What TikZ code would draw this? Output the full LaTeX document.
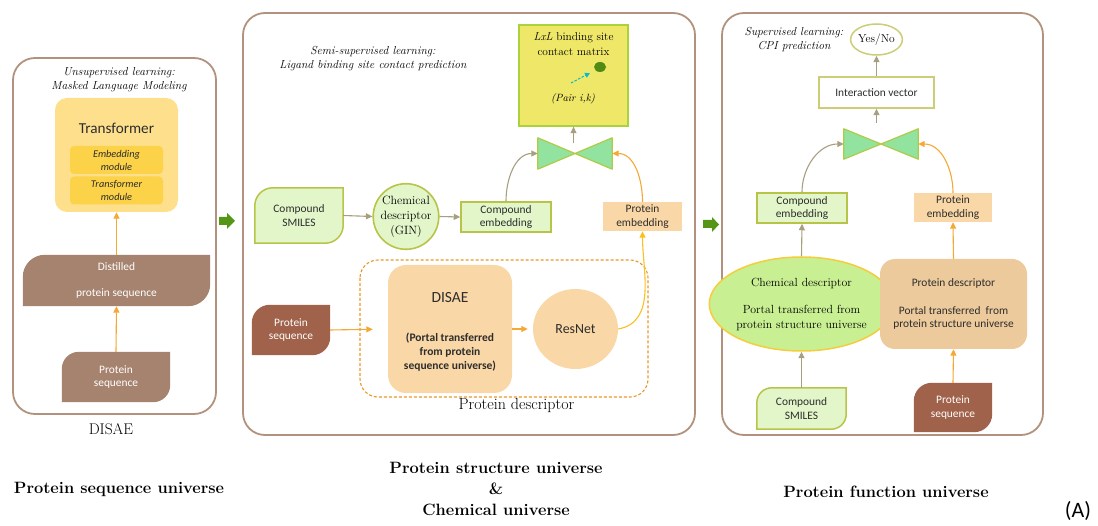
\documentclass[tikz,border=0pt]{standalone}
\usepackage{fontspec}
\setsansfont{Carlito}
\usetikzlibrary{arrows.meta,shapes.geometric,backgrounds}

\definecolor{panelc}{RGB}{178,146,126}
\definecolor{transfill}{RGB}{254,224,140}
\definecolor{modfill}{RGB}{252,210,72}
\definecolor{seqbrown}{RGB}{166,131,111}
\definecolor{seqdark}{RGB}{160,98,74}
\definecolor{lgfill}{RGB}{226,246,202}
\definecolor{olive}{RGB}{184,196,72}
\definecolor{matfill}{RGB}{238,231,104}
\definecolor{matborder}{RGB}{170,210,60}
\definecolor{bowfill}{RGB}{146,226,160}
\definecolor{bowborder}{RGB}{176,204,70}
\definecolor{orangec}{RGB}{245,168,52}
\definecolor{greyc}{RGB}{168,158,128}
\definecolor{peach}{RGB}{250,215,166}
\definecolor{peachdark}{RGB}{236,202,156}
\definecolor{ellfill}{RGB}{200,240,146}
\definecolor{ellborder}{RGB}{245,205,60}
\definecolor{gblock}{RGB}{86,150,22}
\definecolor{dashc}{RGB}{232,152,42}
\definecolor{yellowc}{RGB}{250,192,30}
\definecolor{cyanc}{RGB}{0,190,210}
\definecolor{dotc}{RGB}{80,140,20}
\definecolor{ynborder}{RGB}{205,205,120}
\definecolor{inkc}{RGB}{45,45,45}

% box with rounded top-left and bottom-right corners, drawn behind a node
\newcommand\leafbox[3]{%
  \path[#3] (#1.south west) -- ([yshift=-#2]#1.north west)
    arc[start angle=180, end angle=90, radius=#2]
    -- (#1.north east) -- ([yshift=#2]#1.south east)
    arc[start angle=0, end angle=-90, radius=#2] -- cycle;}

% bow-tie interaction symbol made of two triangles
\newcommand\drawtie[1]{%
  \path[fill=bowfill, draw=bowborder, line width=1.2pt, line join=round]
    (#1.north west) -- (#1.south west) -- (#1.center) -- cycle
    (#1.north east) -- (#1.south east) -- (#1.center) -- cycle;}

\tikzset{
  panel/.style={draw=panelc, line width=1.8pt, rounded corners=22pt},
  sanstxt/.style={font=\sffamily\fontsize{11.4}{13.5}\selectfont, text=inkc, align=center, inner sep=0pt},
  sertxt/.style={font=\fontsize{11.8}{14.5}\selectfont, align=center, inner sep=0pt},
  ittxt/.style={font=\itshape\fontsize{11.6}{14}\selectfont, align=center, inner sep=0pt},
  boldlbl/.style={font=\bfseries\fontsize{16.4}{20}\selectfont, align=center, inner sep=0pt},
  sz/.style 2 args={minimum width=#1pt, minimum height=#2pt},
  modbox/.style={fill=modfill, rounded corners=4pt, sz={93}{28}, inner sep=0pt,
    font=\sffamily\itshape\fontsize{10.3}{13}\selectfont, text=inkc, align=center},
  greenbox/.style={sanstxt, fill=lgfill, draw=olive, line width=1.5pt},
  peachbox/.style={sanstxt, fill=peach},
  conn/.style={line width=1.1pt, -{Triangle[length=6.5pt,width=6pt]}},
  garr/.style={conn, draw=greyc},
  oarr/.style={conn, draw=orangec},
}

\begin{document}
\begin{tikzpicture}[x=1pt, y=-1pt]
\useasboundingbox (0,0) rectangle (1098,526);

% ---------------- protein sequence universe ----------------
\draw[panel] (13,58) rectangle (216,414);
\node[ittxt] (u1) at (119,80) {Unsupervised learning:\\Masked Language Modeling};

\node[fill=transfill, rounded corners=12pt, sz={123}{114}] (tr) at (116.5,155) {};
\node[sanstxt, font=\sffamily\fontsize{15.2}{18}\selectfont] (trl) at (116.5,128) {Transformer};
\node[modbox] (em) at (116.5,160) {Embedding\\module};
\node[modbox] (tm) at (116.5,190.5) {Transformer\\module};

\node[sanstxt, text=white, sz={187}{51}] (ds) at (116.5,280.5) {Distilled\\[13pt]protein sequence};
\node[sanstxt, text=white, sz={108}{50}] (ps1) at (116,377) {Protein\\sequence};
\begin{scope}[on background layer]
  \leafbox{ds}{22pt}{fill=seqbrown}
  \leafbox{ps1}{17pt}{fill=seqbrown}
\end{scope}
\draw[oarr] (ps1.north) -- (ds.south);
\draw[oarr] (ds.north) -- (tr.south);

\node[font=\fontsize{15.5}{18}\selectfont, inner sep=0pt] (disae1) at (111,429) {DISAE};

% transition arrow
\fill[gblock] (219,217) -- (227,217) -- (227,213) -- (235,221) -- (227,229) -- (227,225) -- (219,225) -- cycle;

% ---------------- protein structure & chemical universe ----------------
\draw[panel] (243,13) rectangle (695,435);
\node[ittxt] (u2) at (373,59) {Semi-supervised learning:\\Ligand binding site contact prediction};

\node[fill=matfill, draw=matborder, line width=1.3pt, sz={109}{101}] (mx) at (573.5,75.5) {};
\node[sertxt, font=\fontsize{11.4}{15}\selectfont] (mxl) at (573.5,44) {\textit{LxL} binding site\\contact matrix};
\node[ellipse, fill=dotc, inner sep=0pt, sz={12}{10}] (dot) at (600,67) {};
\coordinate (pairfoot) at (571,83);
\draw[cyanc, dashed, line width=1pt, dash pattern=on 2.5pt off 1.5pt, -{Triangle[length=5pt,width=5pt]}] (pairfoot) -- (590,73);
\node[ittxt, font=\itshape\fontsize{10.5}{13}\selectfont] (pair) at (573,99) {(Pair i,k)};

\node[sz={74}{31}, inner sep=0pt] (bt2) at (575,153.5) {};
\drawtie{bt2}
\coordinate (w2) at ([yshift=10pt]bt2.center);
\draw[garr] (w2 -| mx.south) -- (mx.south);

\node[sanstxt, sz={88}{55}] (cs2) at (299,215.5) {Compound\\SMILES};
\node[circle, fill=lgfill, draw=olive, line width=1.6pt, minimum size=63pt, inner sep=0pt,
      sertxt, font=\fontsize{12}{15}\selectfont] (cd2) at (406,216.5) {Chemical\\descriptor\\(GIN)};
\node[greenbox, sz={90}{30}] (ce2) at (506,217) {Compound\\embedding};
\node[peachbox, sz={79}{29}] (pe2) at (642.5,216.5) {Protein\\embedding};

\draw[dashc, dashed, line width=1.1pt, dash pattern=on 3pt off 2pt, rounded corners=18pt]
  (360,260) rectangle (648,397);
\node[sz={288}{137}, inner sep=0pt] (pdbox) at (504,328.5) {};
\node[font=\fontsize{16}{19}\selectfont, inner sep=0pt] (pdl) at (516.5,406) {Protein descriptor};

\node[fill=peach, rounded corners=18pt, sz={124}{128}] (db) at (450,329) {};
\node[sanstxt, font=\sffamily\fontsize{15.5}{18}\selectfont] (dbt1) at (450,298) {DISAE};
\node[sanstxt, font=\sffamily\bfseries\fontsize{11.5}{14}\selectfont] (dbt2) at (450,352)
  {(Portal transferred\\from protein\\sequence universe)};
\node[ellipse, fill=peach, sz={85}{80}, inner sep=0pt, sanstxt,
      font=\sffamily\fontsize{13.9}{16}\selectfont] (rn) at (575.5,329) {ResNet};

\node[sanstxt, text=white, sz={78}{50}] (ps2) at (291,330) {Protein\\sequence};

\begin{scope}[on background layer]
  \leafbox{cs2}{18pt}{fill=lgfill, draw=olive, line width=1.5pt}
  \leafbox{ps2}{18pt}{fill=seqdark}
\end{scope}

\draw[garr] (cs2.east) -- (cd2.west);
\draw[garr] (cd2.east) -- (ce2.west);
\draw[oarr, shorten >=15pt] (ps2.east) -- (db.west);
\draw[oarr, shorten >=5pt] (db.east) -- (rn.west);
\draw[conn, draw=yellowc] (rn.east) to[out=10, in=-90] (pe2.south);
\draw[garr] (ce2.north) to[out=90, in=180] (bt2.west);
\draw[oarr] (pe2.north) to[out=90, in=0] (bt2.east);

% transition arrow
\fill[gblock] (703,220) -- (712,220) -- (712,217) -- (719,224.5) -- (712,232) -- (712,228) -- (703,228) -- cycle;

% ---------------- protein function universe ----------------
\draw[panel] (722,13) rectangle (1043,435);
\node[ittxt] (u3) at (794,40) {Supervised learning:\\CPI prediction};

\node[ellipse, draw=ynborder, line width=1.5pt, fill=white, sz={45}{31}, inner sep=0pt,
      font=\fontsize{11.5}{14}\selectfont] (yn) at (876.5,39.5) {Yes/No};
\node[sanstxt, draw=ynborder, line width=1.5pt, sz={115}{31}] (iv) at (876.5,92.5) {Interaction vector};
\node[sz={74}{30}, inner sep=0pt] (bt3) at (881,144) {};
\drawtie{bt3}
\coordinate (w3) at ([yshift=21pt]bt3.center);

\node[greenbox, sz={90}{30}] (ce3) at (802,208) {Compound\\embedding};
\node[peachbox, sz={78}{29}] (pe3) at (953,207.5) {Protein\\embedding};

\node[ellipse, fill=ellfill, draw=ellborder, line width=1.5pt, sz={139}{94}, inner sep=0pt,
      sertxt] (cd3) at (801.5,304) {Chemical descriptor\\[13pt]Portal transferred from\\protein structure universe};
\node[sanstxt, fill=peachdark, rounded corners=15pt, sz={147}{90}] (pd3) at (953.5,304)
  {Protein descriptor\\[14pt]Portal transferred\ \ from\\protein structure universe};

\node[sanstxt, sz={89}{41}] (cs3) at (801.5,408.5) {Compound\\SMILES};
\node[sanstxt, text=white, sz={78}{49}] (ps3) at (953,407.5) {Protein\\sequence};
\begin{scope}[on background layer]
  \leafbox{cs3}{15pt}{fill=lgfill, draw=olive, line width=1.5pt}
  \leafbox{ps3}{18pt}{fill=seqdark}
\end{scope}

\draw[garr] (iv.north) -- (yn.south);
\draw[garr] (w3 -| iv.south) -- (iv.south);
\draw[garr] (ce3.north) to[out=90, in=180] (bt3.west);
\draw[oarr] (pe3.north) to[out=90, in=0] (bt3.east);
\draw[garr] (cd3.north) -- (ce3.south);
\draw[oarr] (pd3.north) -- (pe3.south);
\draw[garr] (cs3.north) -- (cd3.south);
\draw[oarr] (ps3.north) -- (pd3.south);

% ---------------- captions ----------------
\node[boldlbl] (cap1) at (119,489) {Protein sequence universe};
\node[boldlbl] (cap2) at (496,489) {Protein structure universe\\[1pt]\&\\[1pt]Chemical universe};
\node[boldlbl] (cap3) at (886,492) {Protein function universe};
\node[font=\sffamily\fontsize{22}{24}\selectfont, inner sep=0pt] (lbA) at (1078,511) {(A)};
\end{tikzpicture}
\end{document}
